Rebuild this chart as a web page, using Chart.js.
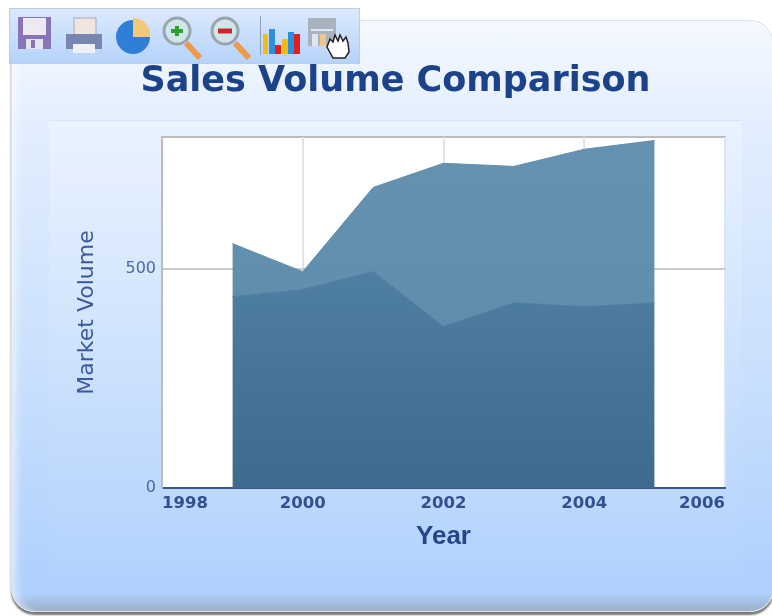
<!DOCTYPE html>
<html>
<head>
<meta charset="utf-8">
<title>Sales Volume Comparison</title>
<script src="https://cdn.jsdelivr.net/npm/chart.js@4"></script>
<style>
    html, body { margin: 0; padding: 0; background: #fff; }
    #page { position: relative; width: 772px; height: 616px; overflow: hidden; filter: blur(0.7px); }
    #card {
        position: absolute; left: 11px; top: 20px; width: 761px; height: 590px;
        border-radius: 24px; border: 1px solid #dfe3e8;
        background: linear-gradient(to bottom, #f5f9ff 0%, #e2eefe 18%, #c9dffd 60%, #b0d1fd 94%, #b0d1fd 97%, #98adca 100%);
        box-shadow: 0 3px 2px #777, inset 9px 0 8px -5px rgba(255, 255, 255, 0.6);
    }
    #inner {
        position: absolute; left: 49px; top: 120px; width: 693px; height: 455px;
        border-top: 1px solid #d3e4fc;
        background: linear-gradient(to bottom, #eaf3ff 0%, #cfe3fd 50%, #b2d2fd 100%);
    }
    #toolbar {
        position: absolute; left: 9px; top: 8px; width: 349px; height: 54px;
        border: 1px solid #b9cdea;
        background: linear-gradient(to bottom, #dbe9fc 0%, #b6d3fb 100%);
    }
    #toolbar svg { position: absolute; left: 0; top: 0; }
    #chart { position: absolute; left: 0; top: 0; }
</style>
</head>
<body>
<div id="page">
    <div id="card"></div>
    <div id="inner"></div>
    <canvas id="chart" width="772" height="616"></canvas>
    <div id="toolbar">
        <svg width="349" height="54" viewBox="0 0 349 54">
            <!-- save -->
            <path d="M8 8h33v32h-33z" fill="#8a74b8"/>
            <rect x="13" y="9" width="23" height="17" fill="#eceaf0"/>
            <rect x="16" y="30" width="17" height="10" fill="#e6e4ee"/>
            <rect x="21" y="31" width="4" height="8" fill="#8a74b8"/>
            <!-- print -->
            <rect x="64" y="9" width="22" height="17" fill="#f0e6df" stroke="#a8a8c0"/>
            <path d="M56 25h35a1 1 0 0 1 1 1v14h-36z" fill="#7a86b2"/>
            <rect x="63" y="35" width="22" height="9" fill="#eef0f4"/>
            <!-- pie -->
            <circle cx="123" cy="28" r="17" fill="#2f7fd6"/>
            <path d="M123 9a17 17 0 0 1 17 19 h-17z" fill="#f3c878"/>
            <!-- zoom in -->
            <path d="M176 34l14 15" stroke="#ee9a4a" stroke-width="6"/>
            <circle cx="167" cy="22" r="13" fill="#cfe6ea" stroke="#9aa4ac" stroke-width="3"/>
            <path d="M161 22h12M167 17v10" stroke="#2fa02f" stroke-width="4"/>
            <!-- zoom out -->
            <path d="M225 34l14 15" stroke="#ee9a4a" stroke-width="6"/>
            <circle cx="215" cy="22" r="13" fill="#cfe6ea" stroke="#9aa4ac" stroke-width="3"/>
            <path d="M208 22h14" stroke="#c82828" stroke-width="5"/>
            <!-- bars -->
            <path d="M250.500 7v39" stroke="#8f9fbc"/>
            <rect x="253" y="25" width="5" height="20" fill="#f2bc18"/>
            <rect x="259" y="20" width="6" height="25" fill="#2c8fe0"/>
            <rect x="265" y="36" width="6" height="9" fill="#e02020"/>
            <rect x="272" y="30" width="6" height="15" fill="#f2bc18"/>
            <rect x="278" y="23" width="6" height="22" fill="#2c8fe0"/>
            <rect x="284" y="25" width="6" height="20" fill="#e02020"/>
            <!-- table and hand -->
            <rect x="298" y="9" width="28" height="28" fill="#a9b2bf"/>
            <rect x="301" y="20" width="22" height="2" fill="#dfe6f0"/>
            <rect x="302" y="25" width="6" height="12" fill="#dfe6f0"/>
            <rect x="310" y="25" width="6" height="12" fill="#f3c48a"/>
            <path d="M317 38l3-8 3 3 2-7 3 6 2-6 3 6 3-4 2 6 1 9-4 6h-12z" fill="#fff" stroke="#222" stroke-width="1.500"/>
        </svg>
    </div>
</div>
<script>
// Chart data
const years = [1999, 2000, 2001, 2002, 2003, 2004, 2005];
const lowerValues = [436, 452, 493, 368, 422, 413, 422];
const upperValues = [121, 41, 192, 372, 311, 359, 370];
const yTicks = [0, 500];
const xTicks = [1998, 2000, 2002, 2004, 2006];

const toPoints = (values) => values.map((v, i) => ({ x: years[i], y: v }));

// Gradient running down the plot area
const areaGradient = (context, top, bottom) => {
    const { ctx, chartArea } = context.chart;
    if (!chartArea) return top;
    const g = ctx.createLinearGradient(0, chartArea.top, 0, chartArea.bottom);
    g.addColorStop(0, top);
    g.addColorStop(1, bottom);
    return g;
};

// White plot background under the grid, grey frame on top and right
const plotBackground = {
    id: 'plotBackground',
    beforeDraw(chart) {
        const { ctx, chartArea: a } = chart;
        ctx.save();
        ctx.fillStyle = '#ffffff';
        ctx.fillRect(a.left, a.top, a.width, a.height);
        ctx.strokeStyle = '#bcbcbc';
        ctx.lineWidth = 2;
        ctx.beginPath();
        ctx.moveTo(a.left, a.top);
        ctx.lineTo(a.right, a.top);
        ctx.lineTo(a.right, a.bottom);
        ctx.stroke();
        ctx.restore();
    }
};

new Chart(document.getElementById('chart').getContext('2d'), {
    type: 'line',
    plugins: [plotBackground],
    data: {
        datasets: [{
            label: 'Lower',
            data: toPoints(lowerValues),
            fill: 'origin',
            borderColor: '#4a7a9f',
            borderWidth: 1,
            pointRadius: 0,
            tension: 0,
            backgroundColor: (c) => areaGradient(c, '#5b8bb0', '#3d6a8f')
        }, {
            label: 'Upper',
            data: toPoints(upperValues),
            fill: '-1',
            borderColor: '#5f8fae',
            borderWidth: 1,
            pointRadius: 0,
            tension: 0,
            backgroundColor: (c) => areaGradient(c, '#6592b0', '#5a8aaa')
        }]
    },
    options: {
        responsive: false,
        animation: false,
        layout: { padding: { left: 66, right: 47, top: 0, bottom: 60 } },
        plugins: {
            legend: { display: false },
            tooltip: { enabled: false },
            title: {
                display: true,
                text: 'Sales Volume Comparison',
                color: '#1c4389',
                font: { family: 'DejaVu Sans', size: 35, weight: 'bold' },
                padding: { top: 61, bottom: 34 }
            }
        },
        scales: {
            x: {
                type: 'linear',
                min: xTicks[0],
                max: xTicks[xTicks.length - 1],
                afterBuildTicks: (axis) => { axis.ticks = xTicks.map(v => ({ value: v })); },
                afterFit: (axis) => { axis.height = 68; },
                border: { color: '#35578f', width: 2 },
                grid: { color: '#dfe4ee', lineWidth: 2, drawTicks: false },
                ticks: {
                    align: 'inner',
                    maxRotation: 0,
                    color: '#34508f',
                    padding: 6,
                    font: { family: 'DejaVu Sans', size: 16.5, weight: 'bold' },
                    callback: (v) => String(v)
                },
                title: {
                    display: true,
                    text: 'Year',
                    color: '#25478a',
                    font: { family: 'Liberation Sans', size: 26, weight: 'bold' },
                    padding: { top: 8 }
                }
            },
            y: {
                stacked: true,
                min: 0,
                max: 800,
                afterBuildTicks: (axis) => { axis.ticks = yTicks.map(v => ({ value: v })); },
                afterFit: (axis) => { axis.width = 96; },
                border: { color: '#bcbcbc', width: 2 },
                grid: { color: '#c9c9c9', lineWidth: 2, drawTicks: false },
                ticks: {
                    color: '#4a68a4',
                    padding: 6,
                    font: { family: 'DejaVu Sans', size: 16 }
                },
                title: {
                    display: true,
                    text: 'Market Volume',
                    color: '#3a5a9c',
                    font: { family: 'DejaVu Sans', size: 22 },
                    padding: { top: 8, bottom: 0 }
                }
            }
        }
    }
});
</script>
</body>
</html>
